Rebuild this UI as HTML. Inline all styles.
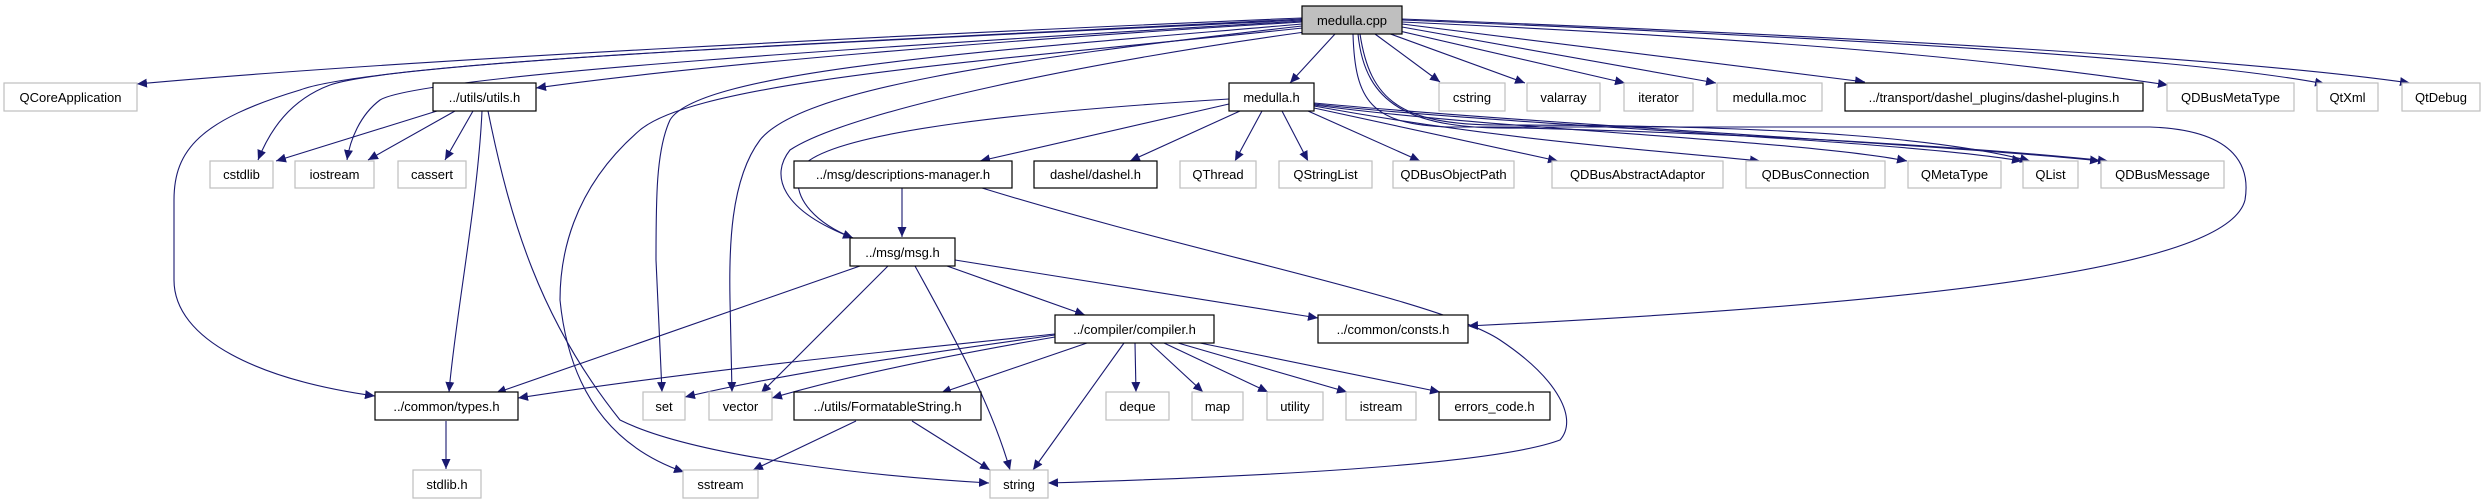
<!DOCTYPE html>
<html><head><meta charset="utf-8"><style>
html,body{margin:0;padding:0;background:#fff;}
svg{display:block;}
text{font-family:"Liberation Sans",sans-serif;font-size:13px;fill:#000;text-anchor:middle;}
.g{fill:#fff;stroke:#bfbfbf;stroke-width:1.2;}
.b{fill:#fff;stroke:#000;stroke-width:1.2;}
.e{fill:none;stroke:#191970;stroke-width:1.1;marker-end:url(#a);}
</style></head><body>
<svg width="2485" height="504" viewBox="0 0 2485 504" xmlns="http://www.w3.org/2000/svg">
<defs><marker id="a" markerUnits="userSpaceOnUse" markerWidth="11" markerHeight="9" refX="10" refY="4.5" orient="auto"><path d="M0,0 L10,4.5 L0,9 z" fill="#191970"/></marker></defs>
<g>
<path class="e" d="M1302,18 C900,35 400,60 137,84"/>
<path class="e" d="M1302,20 C900,40 400,60 330,85 C290,100 270,130 258,160"/>
<path class="e" d="M1302,21 C900,45 420,75 380,100 C360,115 350,140 347,160"/>
<path class="e" d="M1302,22 C1000,40 700,65 536,88"/>
<path class="e" d="M1302,19 C900,40 380,60 300,90 C200,120 174,150 174,200 L174,280 C174,340 260,380 375,396"/>
<path class="e" d="M1302,24 C1000,50 700,70 670,120 C656,150 656,200 656,260 L662,392"/>
<path class="e" d="M1302,26 C1000,60 800,90 760,140 C730,180 729,250 730,300 L732,392"/>
<path class="e" d="M1303,28 C1000,60 700,80 640,130 C570,190 560,260 560,300 C570,400 620,450 684,472"/>
<path class="e" d="M1305,32 C1100,60 850,110 790,150 C770,175 780,210 853,238"/>
<path class="e" d="M1335,34 L1290,83"/>
<path class="e" d="M1353,34 C1355,100 1370,125 1450,127 L2150,127 C2240,130 2250,170 2245,200 C2230,260 2000,300 1468,326"/>
<path class="e" d="M1375,34 L1440,82"/>
<path class="e" d="M1385,32 L1525,83"/>
<path class="e" d="M1395,30 L1625,83"/>
<path class="e" d="M1402,27 L1716,83"/>
<path class="e" d="M1402,24 L1865,82"/>
<path class="e" d="M1402,22 C1800,40 2000,60 2168,85"/>
<path class="e" d="M1402,20 C1900,40 2200,60 2325,84"/>
<path class="e" d="M1402,19 C1900,38 2250,60 2410,83"/>
<path class="e" d="M1360,34 C1370,100 1400,125 1500,125 C1800,125 1950,140 2030,161"/>
<path class="e" d="M1358,34 C1365,105 1410,130 1520,128 C1800,135 2000,150 2108,161"/>

<path class="e" d="M1229,99 C1050,110 820,130 800,170 C790,200 820,225 853,238"/>
<path class="e" d="M1229,104 L980,161"/>
<path class="e" d="M1240,111 L1130,161"/>
<path class="e" d="M1262,111 L1235,161"/>
<path class="e" d="M1282,111 L1308,161"/>
<path class="e" d="M1308,111 L1420,161"/>
<path class="e" d="M1314,108 L1558,161"/>
<path class="e" d="M1314,106 C1500,140 1650,150 1760,161"/>
<path class="e" d="M1314,105 C1500,130 1800,140 1907,161"/>
<path class="e" d="M1314,104 C1500,125 1900,140 2022,161"/>
<path class="e" d="M1314,103 C1550,125 1950,145 2100,161"/>

<path class="e" d="M437,111 L276,161"/>
<path class="e" d="M455,111 L368,160"/>
<path class="e" d="M473,111 L445,160"/>
<path class="e" d="M482,111 C478,200 455,320 449,392"/>
<path class="e" d="M488,111 C510,220 540,320 620,420 C700,460 900,478 989,483"/>

<path class="e" d="M902,188 L902,237"/>
<path class="e" d="M982,188 C1200,255 1440,300 1500,340 C1560,380 1578,420 1560,440 C1480,470 1150,480 1048,483"/>

<path class="e" d="M860,266 L496,393"/>
<path class="e" d="M888,266 L761,393"/>
<path class="e" d="M915,266 C950,330 990,400 1010,470"/>
<path class="e" d="M947,266 L1085,315"/>
<path class="e" d="M955,260 L1318,318"/>

<path class="e" d="M1055,334 C900,350 700,370 518,398"/>
<path class="e" d="M1055,335 C950,350 800,370 685,397"/>
<path class="e" d="M1055,337 C950,355 850,375 772,398"/>
<path class="e" d="M1087,343 L941,393"/>
<path class="e" d="M1124,343 L1033,470"/>
<path class="e" d="M1135,343 L1136,392"/>
<path class="e" d="M1150,343 L1203,392"/>
<path class="e" d="M1164,343 L1268,392"/>
<path class="e" d="M1178,343 L1347,392"/>
<path class="e" d="M1200,343 L1440,392"/>

<path class="e" d="M856,421 L753,470"/>
<path class="e" d="M912,421 L990,470"/>
<path class="e" d="M446,421 L446,469"/>
</g>
<g>
<rect x="1302" y="6" width="100" height="28" fill="#bfbfbf" stroke="#000" stroke-width="1.2"/><text x="1352" y="25">medulla.cpp</text>

<rect class="g" x="4" y="83" width="133" height="28"/><text x="70.5" y="102">QCoreApplication</text>
<rect class="b" x="433" y="83" width="103" height="28"/><text x="484.5" y="102">../utils/utils.h</text>
<rect class="b" x="1229" y="83" width="85" height="28"/><text x="1271.5" y="102">medulla.h</text>
<rect class="g" x="1439" y="83" width="66" height="28"/><text x="1472" y="102">cstring</text>
<rect class="g" x="1527" y="83" width="73" height="28"/><text x="1563.5" y="102">valarray</text>
<rect class="g" x="1624" y="83" width="69" height="28"/><text x="1658.5" y="102">iterator</text>
<rect class="g" x="1717" y="83" width="105" height="28"/><text x="1769.5" y="102">medulla.moc</text>
<rect class="b" x="1845" y="83" width="298" height="28"/><text x="1994" y="102">../transport/dashel_plugins/dashel-plugins.h</text>
<rect class="g" x="2167" y="83" width="127" height="28"/><text x="2230.5" y="102">QDBusMetaType</text>
<rect class="g" x="2317" y="83" width="61" height="28"/><text x="2347.5" y="102">QtXml</text>
<rect class="g" x="2402" y="83" width="78" height="28"/><text x="2441" y="102">QtDebug</text>

<rect class="g" x="210" y="161" width="63" height="27"/><text x="241.5" y="179">cstdlib</text>
<rect class="g" x="295" y="161" width="79" height="27"/><text x="334.5" y="179">iostream</text>
<rect class="g" x="398" y="161" width="68" height="27"/><text x="432" y="179">cassert</text>
<rect class="b" x="794" y="161" width="218" height="27"/><text x="903" y="179">../msg/descriptions-manager.h</text>
<rect class="b" x="1034" y="161" width="123" height="27"/><text x="1095.5" y="179">dashel/dashel.h</text>
<rect class="g" x="1180" y="161" width="76" height="27"/><text x="1218" y="179">QThread</text>
<rect class="g" x="1279" y="161" width="93" height="27"/><text x="1325.5" y="179">QStringList</text>
<rect class="g" x="1393" y="161" width="121" height="27"/><text x="1453.5" y="179">QDBusObjectPath</text>
<rect class="g" x="1552" y="161" width="171" height="27"/><text x="1637.5" y="179">QDBusAbstractAdaptor</text>
<rect class="g" x="1746" y="161" width="139" height="27"/><text x="1815.5" y="179">QDBusConnection</text>
<rect class="g" x="1908" y="161" width="93" height="27"/><text x="1954.5" y="179">QMetaType</text>
<rect class="g" x="2023" y="161" width="55" height="27"/><text x="2050.5" y="179">QList</text>
<rect class="g" x="2101" y="161" width="123" height="27"/><text x="2162.5" y="179">QDBusMessage</text>

<rect class="b" x="850" y="238" width="105" height="28"/><text x="902.5" y="257">../msg/msg.h</text>

<rect class="b" x="1055" y="315" width="159" height="28"/><text x="1134.5" y="334">../compiler/compiler.h</text>
<rect class="b" x="1318" y="315" width="150" height="28"/><text x="1393" y="334">../common/consts.h</text>

<rect class="b" x="375" y="392" width="143" height="28"/><text x="446.5" y="411">../common/types.h</text>
<rect class="g" x="643" y="392" width="42" height="28"/><text x="664" y="411">set</text>
<rect class="g" x="709" y="392" width="63" height="28"/><text x="740.5" y="411">vector</text>
<rect class="b" x="794" y="392" width="187" height="28"/><text x="887.5" y="411">../utils/FormatableString.h</text>
<rect class="g" x="1106" y="392" width="63" height="28"/><text x="1137.5" y="411">deque</text>
<rect class="g" x="1192" y="392" width="51" height="28"/><text x="1217.5" y="411">map</text>
<rect class="g" x="1267" y="392" width="56" height="28"/><text x="1295" y="411">utility</text>
<rect class="g" x="1346" y="392" width="70" height="28"/><text x="1381" y="411">istream</text>
<rect class="b" x="1439" y="392" width="111" height="28"/><text x="1494.5" y="411">errors_code.h</text>

<rect class="g" x="413" y="470" width="68" height="28"/><text x="447" y="489">stdlib.h</text>
<rect class="g" x="683" y="470" width="75" height="28"/><text x="720.5" y="489">sstream</text>
<rect class="g" x="990" y="470" width="58" height="28"/><text x="1019" y="489">string</text>
</g>
</svg>
</body></html>
